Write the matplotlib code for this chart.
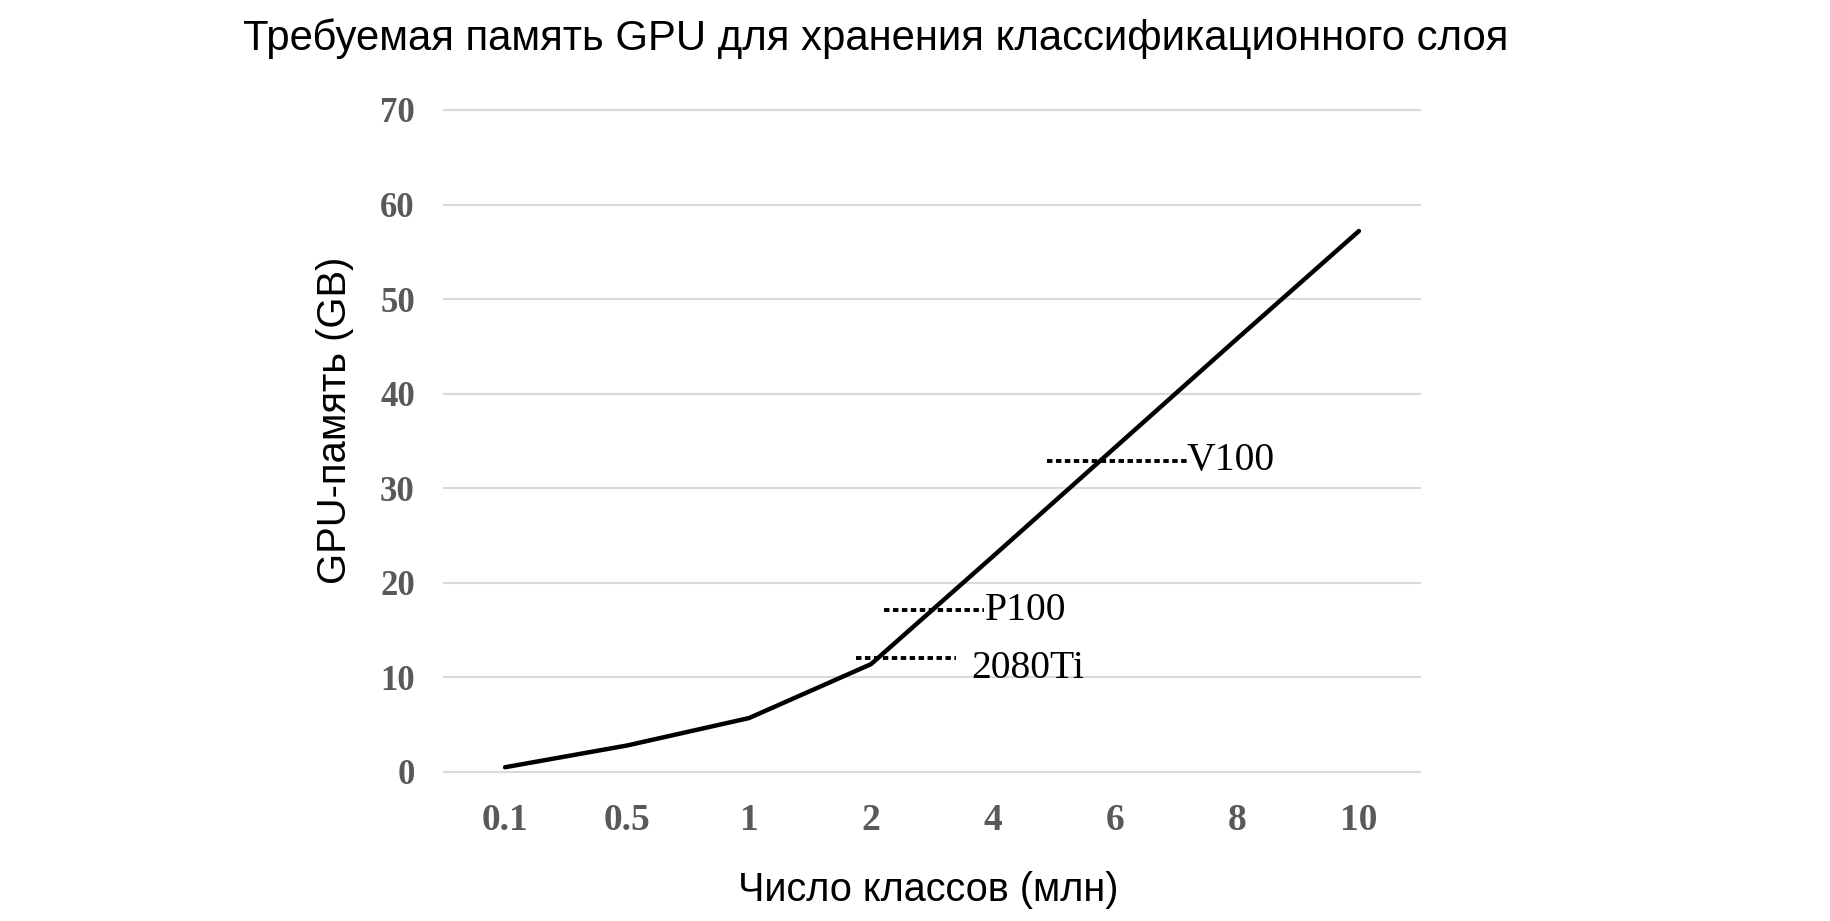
import matplotlib.pyplot as plt

# Data
classes = ['0.1', '0.5', '1', '2', '4', '6', '8', '10']
memory_gb = [0.5, 2.8, 5.7, 11.4, 22.8, 34.3, 45.8, 57.2]

# GPU memory limits: name, level (GB), line start/end (category index)
gpu_names = ['V100', 'P100', '2080Ti']
gpu_levels = [32.9, 17.1, 12.1]
gpu_x_start = [4.44, 3.11, 2.88]
gpu_x_end = [5.59, 3.93, 3.70]

fig = plt.figure(figsize=(18.31, 9.21), dpi=100)
ax = fig.add_axes([0.2425, 0.1618, 0.533, 0.7188])

x = range(len(classes))
ax.plot(x, memory_gb, color='black', lw=3.2, solid_capstyle='round', zorder=3)

# GPU memory markers
for name, lvl, x0, x1 in zip(gpu_names, gpu_levels, gpu_x_start, gpu_x_end):
    ax.plot([x0, x1], [lvl, lvl], color='black', lw=2.8,
            linestyle=(0, (1.4, 0.9)), zorder=2)
    dy = -1.2 if name == '2080Ti' else 0
    dx = 0.12 if name == '2080Ti' else 0.0
    ax.text(x1 + dx, lvl + dy, name, fontsize=28.5, family='Liberation Serif',
            va='center', ha='left')

ax.set_xlim(-0.5, len(classes) - 0.5)
ax.set_ylim(0, 70)
ax.set_yticks(range(0, 71, 10))
ax.set_xticks(list(x))
ax.set_xticklabels(classes)

for y in range(0, 71, 10):
    ax.axhline(y, color='#d9d9d9', lw=1.5, zorder=0, clip_on=False)

for s in ax.spines.values():
    s.set_visible(False)
ax.tick_params(length=0)
ax.tick_params(axis='y', pad=21)
ax.tick_params(axis='x', pad=22)
for lab in ax.get_yticklabels():
    lab.set_fontsize(25)
for lab in ax.get_xticklabels():
    lab.set_fontsize(27)
for lab in ax.get_xticklabels() + ax.get_yticklabels():
    lab.set_family('Liberation Serif')
    lab.set_weight('bold')
    lab.set_color('#595959')

fig.text(0.478, 0.958, 'Требуемая память GPU для хранения классификационного слоя',
         ha='center', va='center', fontsize=30.2, family='Liberation Sans')
fig.text(0.183, 0.544, 'GPU-память (GB)', rotation=90, ha='center', va='center',
         fontsize=28.8, family='Liberation Sans')
fig.text(0.507, 0.034, 'Число классов (млн)', ha='center', va='center',
         fontsize=28.5, family='Liberation Sans')

fig.savefig('out.png', dpi=100)
